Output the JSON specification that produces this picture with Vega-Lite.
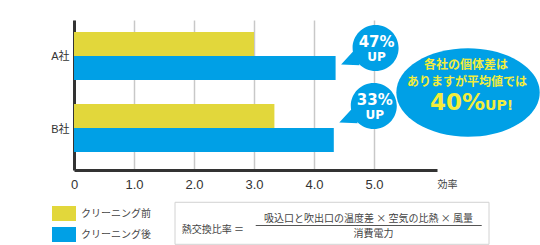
{
  "$schema": "https://vega.github.io/schema/vega-lite/v6.json",
  "width": 363,
  "height": 150,
  "autosize": {"type": "none"},
  "padding": {"left": 74, "top": 20, "right": 103, "bottom": 75},
  "background": "white",
  "config": {"view": {"stroke": null}, "font": "Liberation Sans"},
  "datasets": {
    "bars": [
      {"company": "A社", "status": "クリーニング前", "value": 3.0},
      {"company": "A社", "status": "クリーニング後", "value": 4.36, "gain": "47%"},
      {"company": "B社", "status": "クリーニング前", "value": 3.34},
      {"company": "B社", "status": "クリーニング後", "value": 4.33, "gain": "33%"}
    ],
    "summary": [{"avg": "40%"}],
    "formula": [{"name": "熱交換比率 ＝", "num": "吸込口と吹出口の温度差 × 空気の比熱 × 風量", "den": "消費電力"}]
  },
  "layer": [
    {
      "data": {"name": "bars"},
      "mark": {"type": "bar"},
      "encoding": {
        "x": {
          "field": "value", "type": "quantitative",
          "scale": {"domain": [0, 6.05], "nice": false, "zero": true},
          "axis": {
            "values": [0, 1, 2, 3, 4, 5],
            "labelExpr": "datum.value === 0 ? '0' : format(datum.value, '.1f')",
            "grid": true, "gridColor": "#c8c8c8", "gridWidth": 1.5,
            "ticks": false, "domainColor": "#333333", "domainWidth": 3,
            "labelFont": "Liberation Sans", "labelFontSize": 13, "labelColor": "#333333",
            "labelPadding": 8, "labelFlush": false, "labelOverlap": false,
            "title": "効率", "titleFont": "Noto Sans CJK JP", "titleFontSize": 10,
            "titleFontWeight": "normal", "titleColor": "#444444",
            "titleX": 363, "titleY": 14, "titleAlign": "left", "titleBaseline": "middle"
          }
        },
        "y": {
          "field": "company", "type": "nominal",
          "scale": {"paddingInner": 0.3333, "paddingOuter": 0.2083, "align": 0.4},
          "axis": {
            "title": null, "ticks": false, "grid": false,
            "domainColor": "#333333", "domainWidth": 3,
            "labelFont": "Liberation Sans, Noto Sans CJK JP", "labelFontSize": 11,
            "labelColor": "#333333", "labelPadding": 5, "labelOffset": 1.5
          }
        },
        "yOffset": {
          "field": "status", "type": "nominal",
          "scale": {"domain": ["クリーニング前", "クリーニング後"], "paddingInner": 0, "paddingOuter": 0}
        },
        "color": {
          "field": "status", "type": "nominal",
          "scale": {"domain": ["クリーニング前", "クリーニング後"], "range": ["#E2D73B", "#00A0E6"]},
          "legend": {
            "orient": "none", "legendX": -22, "legendY": 181.5, "title": null, "padding": 0,
            "symbolType": "M-1,-0.625L1,-0.625L1,0.625L-1,0.625Z", "symbolSize": 576,
            "symbolStrokeWidth": 0, "symbolOpacity": 1,
            "labelFont": "Noto Sans CJK JP", "labelFontSize": 10, "labelColor": "#444444",
            "labelOffset": 5, "rowPadding": 1
          }
        }
      }
    },
    {
      "data": {"name": "bars"},
      "transform": [{"filter": "datum.status === 'クリーニング後'"}],
      "mark": {
        "type": "point", "filled": true, "fill": "#00A0E6", "opacity": 1, "strokeWidth": 0,
        "shape": "M1,0A1,1 0 1,1 -1,0A1,1 0 1,1 1,0Z M-0.98,0.15L-0.7,0.75L-1.5,0.72Z",
        "size": 2116, "xOffset": 40,
        "yOffset": {"expr": "datum.company === 'A社' ? -8 : -22"}
      },
      "encoding": {
        "x": {"field": "value", "type": "quantitative", "scale": {"domain": [0, 6.05], "nice": false}},
        "y": {"field": "company", "type": "nominal"}
      }
    },
    {
      "data": {"name": "bars"},
      "transform": [{"filter": "datum.status === 'クリーニング後'"}],
      "mark": {
        "type": "text", "font": "DejaVu Sans", "fontWeight": "bold", "fontSize": 15,
        "color": "white", "align": "center", "baseline": "middle", "dx": 41,
        "dy": {"expr": "datum.company === 'A社' ? -13.5 : -28"}
      },
      "encoding": {
        "x": {"field": "value", "type": "quantitative", "scale": {"domain": [0, 6.05], "nice": false}},
        "y": {"field": "company", "type": "nominal"},
        "text": {"field": "gain"}
      }
    },
    {
      "data": {"name": "bars"},
      "transform": [{"filter": "datum.status === 'クリーニング後'"}],
      "mark": {
        "type": "text", "font": "DejaVu Sans", "fontWeight": "bold", "fontSize": 12,
        "color": "white", "align": "center", "baseline": "middle", "dx": 41, "text": "UP",
        "dy": {"expr": "datum.company === 'A社' ? 1.5 : -13"}
      },
      "encoding": {
        "x": {"field": "value", "type": "quantitative", "scale": {"domain": [0, 6.05], "nice": false}},
        "y": {"field": "company", "type": "nominal"}
      }
    },
    {
      "data": {"name": "summary"},
      "mark": {
        "type": "point", "filled": true, "fill": "#00A0E6", "opacity": 1, "strokeWidth": 0,
        "shape": "M1,0A1,0.616 0 1,1 -1,0A1,0.616 0 1,1 1,0Z",
        "size": 20564, "yOffset": -2.5
      },
      "encoding": {
        "x": {"datum": 6.567, "type": "quantitative", "scale": {"domain": [0, 6.05], "nice": false}}
      }
    },
    {
      "data": {"name": "summary"},
      "mark": {
        "type": "text", "font": "Noto Sans CJK JP", "fontWeight": "bold", "fontSize": 12,
        "color": "#F3ED3C", "align": "center", "baseline": "middle", "dx": -2, "dy": -30,
        "text": "各社の個体差は"
      },
      "encoding": {
        "x": {"datum": 6.567, "type": "quantitative", "scale": {"domain": [0, 6.05], "nice": false}}
      }
    },
    {
      "data": {"name": "summary"},
      "mark": {
        "type": "text", "font": "Noto Sans CJK JP", "fontWeight": "bold", "fontSize": 12,
        "color": "#F3ED3C", "align": "center", "baseline": "middle", "dx": -1, "dy": -13,
        "text": "ありますが平均値では"
      },
      "encoding": {
        "x": {"datum": 6.567, "type": "quantitative", "scale": {"domain": [0, 6.05], "nice": false}}
      }
    },
    {
      "data": {"name": "summary"},
      "mark": {
        "type": "text", "font": "DejaVu Sans", "fontWeight": "bold", "fontSize": 23,
        "color": "#F3ED3C", "align": "right", "baseline": "alphabetic", "dx": 17, "dy": 15
      },
      "encoding": {
        "x": {"datum": 6.567, "type": "quantitative", "scale": {"domain": [0, 6.05], "nice": false}},
        "text": {"field": "avg"}
      }
    },
    {
      "data": {"name": "summary"},
      "mark": {
        "type": "text", "font": "DejaVu Sans", "fontWeight": "bold", "fontSize": 14,
        "color": "#F3ED3C", "align": "left", "baseline": "alphabetic", "dx": 17, "dy": 15,
        "text": "UP!"
      },
      "encoding": {
        "x": {"datum": 6.567, "type": "quantitative", "scale": {"domain": [0, 6.05], "nice": false}}
      }
    },
    {
      "data": {"name": "formula"},
      "mark": {
        "type": "point", "filled": true, "fill": "white", "opacity": 1,
        "stroke": "#d2d2d2", "strokeWidth": 1,
        "shape": "M-1,-0.1338L1,-0.1338L1,0.1338L-1,0.1338Z",
        "size": 98596, "yOffset": 128.3
      },
      "encoding": {
        "x": {"datum": 4.3, "type": "quantitative", "scale": {"domain": [0, 6.05], "nice": false}}
      }
    },
    {
      "data": {"name": "formula"},
      "mark": {
        "type": "text", "font": "Noto Sans CJK JP", "fontSize": 10, "color": "#444444",
        "align": "left", "baseline": "middle", "dy": 134.5
      },
      "encoding": {
        "x": {"datum": 1.795, "type": "quantitative", "scale": {"domain": [0, 6.05], "nice": false}},
        "text": {"field": "name"}
      }
    },
    {
      "data": {"name": "formula"},
      "mark": {
        "type": "text", "font": "Noto Sans CJK JP", "fontSize": 10, "color": "#444444",
        "align": "center", "baseline": "middle", "dy": 124
      },
      "encoding": {
        "x": {"datum": 4.908, "type": "quantitative", "scale": {"domain": [0, 6.05], "nice": false}},
        "text": {"field": "num"}
      }
    },
    {
      "data": {"name": "formula"},
      "mark": {
        "type": "text", "font": "Noto Sans CJK JP", "fontSize": 10, "color": "#444444",
        "align": "center", "baseline": "middle", "dy": 138.5
      },
      "encoding": {
        "x": {"datum": 4.99, "type": "quantitative", "scale": {"domain": [0, 6.05], "nice": false}},
        "text": {"field": "den"}
      }
    },
    {
      "data": {"name": "formula"},
      "mark": {
        "type": "point", "filled": false, "opacity": 1, "stroke": "#555555", "strokeWidth": 1,
        "shape": "M-1,0L1,0", "size": 51076, "yOffset": 130.5
      },
      "encoding": {
        "x": {"datum": 4.912, "type": "quantitative", "scale": {"domain": [0, 6.05], "nice": false}}
      }
    }
  ]
}
